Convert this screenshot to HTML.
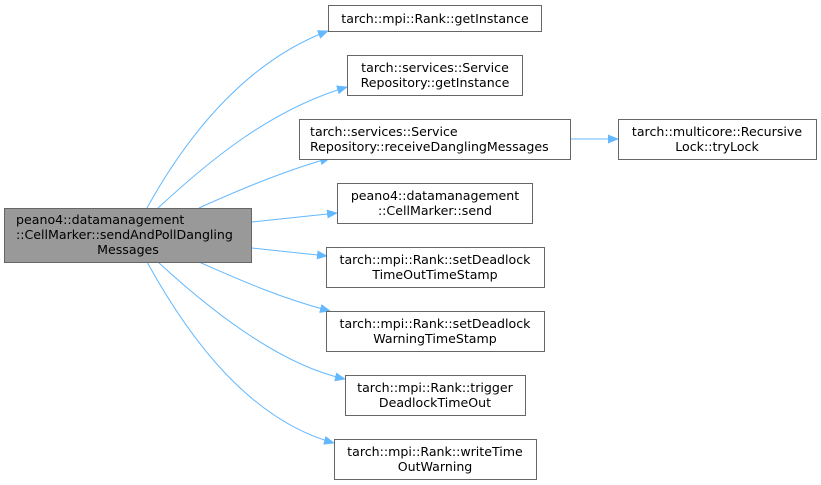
<!DOCTYPE html>
<html><head><meta charset="utf-8"><style>
html,body{margin:0;padding:0;background:#fff;width:821px;height:485px;overflow:hidden}
svg text{font-family:"DejaVu Sans","Liberation Sans",sans-serif;font-size:12.6px;fill:#000}
</style></head><body>
<svg width="821" height="485" viewBox="0 0 821 485" xmlns="http://www.w3.org/2000/svg">
<defs><marker id="a" markerWidth="11" markerHeight="9" refX="10" refY="4.5" orient="auto" markerUnits="userSpaceOnUse"><path d="M0,0 L11,4.5 L0,9 z" fill="#63b8ff"/></marker></defs>
<g fill="none" stroke="#63b8ff" stroke-width="1" marker-end="url(#a)">
<path d="M147,208 C190,130 250,60 328,31"/>
<path d="M158,208 C210,160 270,110 347,87"/>
<path d="M199,208 C230,194 280,172 330,158"/>
<path d="M252,222 L337,213"/>
<path d="M252,248 L327,256"/>
<path d="M199,262 C240,280 280,298 330,311"/>
<path d="M158,262 C210,310 280,365 345,379"/>
<path d="M147,262 C190,340 250,420 334,443"/>
<path d="M571,139 L618,139"/>
</g>
<g stroke="#666" stroke-width="1">
<rect x="4.5" y="208.5" width="247" height="54" fill="#999"/>
<rect x="328.5" y="5.5" width="213" height="26" fill="#fff"/>
<rect x="347.5" y="55.5" width="175" height="40" fill="#fff"/>
<rect x="299.5" y="119.5" width="271" height="40" fill="#fff"/>
<rect x="337.5" y="183.5" width="195" height="40" fill="#fff"/>
<rect x="326.5" y="247.5" width="218" height="40" fill="#fff"/>
<rect x="326.5" y="311.5" width="218" height="40" fill="#fff"/>
<rect x="345.5" y="375.5" width="180" height="40" fill="#fff"/>
<rect x="334.5" y="439.5" width="202" height="40" fill="#fff"/>
<rect x="618.5" y="119.5" width="198" height="40" fill="#fff"/>
</g>
<text x="16" y="224">peano4::datamanagement</text>
<text x="16" y="239">::CellMarker::sendAndPollDangling</text>
<text x="128" y="254" text-anchor="middle">Messages</text>
<g text-anchor="middle">
<text x="435" y="23">tarch::mpi::Rank::getInstance</text>
<text x="435" y="72">tarch::services::Service</text>
<text x="435" y="87">Repository::getInstance</text>
<text x="435" y="200">peano4::datamanagement</text>
<text x="435" y="215">::CellMarker::send</text>
<text x="435" y="264">tarch::mpi::Rank::setDeadlock</text>
<text x="435" y="279">TimeOutTimeStamp</text>
<text x="435" y="328">tarch::mpi::Rank::setDeadlock</text>
<text x="435" y="343">WarningTimeStamp</text>
<text x="435" y="392">tarch::mpi::Rank::trigger</text>
<text x="435" y="407">DeadlockTimeOut</text>
<text x="435" y="456">tarch::mpi::Rank::writeTime</text>
<text x="435" y="471">OutWarning</text>
<text x="717" y="136">tarch::multicore::Recursive</text>
<text x="717" y="151">Lock::tryLock</text>
</g>
<text x="310" y="136">tarch::services::Service</text>
<text x="310" y="151">Repository::receiveDanglingMessages</text>
</svg>
</body></html>
